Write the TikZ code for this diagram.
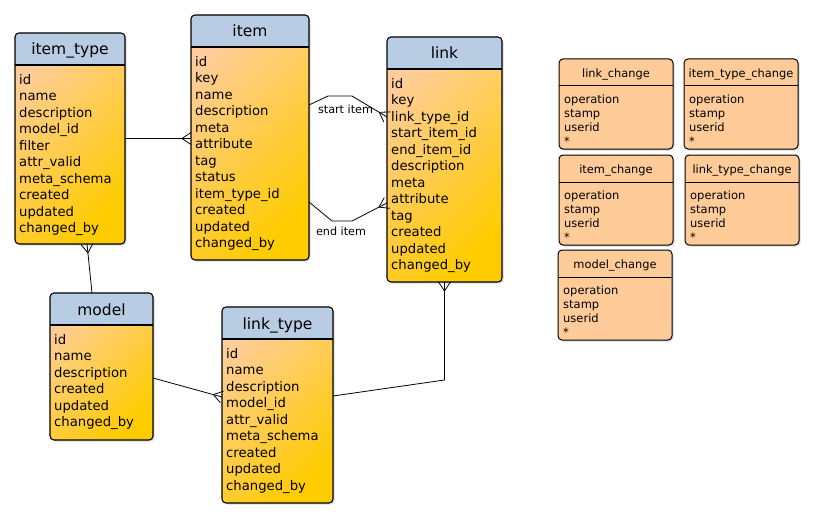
\documentclass[tikz,border=0pt]{standalone}
\usepackage{fontspec}
\setmainfont{DejaVu Sans}
\usetikzlibrary{shadows}
\usetikzlibrary{decorations.markings}

\definecolor{headblue}{RGB}{184,204,228}
\definecolor{bodytop}{RGB}{255,205,155}
\definecolor{bodybot}{RGB}{255,204,0}
\definecolor{chgfill}{RGB}{255,204,153}

\begin{document}
\begin{tikzpicture}
		[x=1pt, y=-1pt,
		tbl/.style={draw, line width=1.1pt, rounded corners=4pt, anchor=north west, inner sep=0pt, outer sep=0pt,
			top color=bodytop, bottom color=bodybot, shading angle=45,
			drop shadow={shadow xshift=1.5pt, shadow yshift=-1.5pt, opacity=0.3},
			path picture={\fill[headblue, sharp corners] (path picture bounding box.north west) rectangle ([yshift=-32pt]path picture bounding box.north east);
				\draw[line width=1.1pt] ([yshift=-32pt]path picture bounding box.north west) -- ([yshift=-32pt]path picture bounding box.north east);}},
		chg/.style={draw, line width=1pt, rounded corners=4pt, anchor=north west, inner sep=0pt, outer sep=0pt,
			fill=chgfill, minimum width=114pt, minimum height=90pt,
			drop shadow={shadow xshift=1.5pt, shadow yshift=-1.5pt, opacity=0.3},
			path picture={\draw[line width=1pt] ([yshift=-27pt]path picture bounding box.north west) -- ([yshift=-27pt]path picture bounding box.north east);}},
		ttl/.style={font=\fontsize{15.5}{18}\selectfont, anchor=base, inner sep=0pt},
		fld/.style={font=\fontsize{13.2}{16.5}\selectfont, align=left, anchor=north west, inner sep=0pt},
		cttl/.style={font=\fontsize{11.4}{14}\selectfont, anchor=base, inner sep=0pt},
		cfld/.style={font=\fontsize{11.5}{14}\selectfont, align=left, anchor=north west, inner sep=0pt},
		lbl/.style={font=\fontsize{11.2}{13}\selectfont, inner sep=0pt},
		conn/.style={draw, line width=0.8pt},
		crowend/.style={postaction={decorate, decoration={markings, mark=at position 1 with {\draw[line width=0.8pt] (-9pt,0pt) -- (0pt,6pt) (-9pt,0pt) -- (0pt,-6pt);}}}},
		crowstart/.style={postaction={decorate, decoration={markings, mark=at position 0 with {\draw[line width=0.8pt] (9pt,0pt) -- (0pt,6pt) (9pt,0pt) -- (0pt,-6pt);}}}},
		]
		\useasboundingbox (0,0) rectangle (814,519);
		
		% main tables
		\node[tbl, minimum width=110pt, minimum height=211pt] (itemtype) at (15,33) {};
		\node[ttl] (itemtype-t) at ([yshift=-22pt]itemtype.north) {item\_type};
		\node[fld] (itemtype-f) at ([xshift=4pt,yshift=-41pt]itemtype.north west) {id\\name\\description\\model\_id\\filter\\attr\_valid\\meta\_schema\\created\\updated\\changed\_by};
		
		\node[tbl, minimum width=118pt, minimum height=245pt] (item) at (191,15) {};
		\node[ttl] (item-t) at ([yshift=-22pt]item.north) {item};
		\node[fld] (item-f) at ([xshift=4pt,yshift=-41pt]item.north west) {id\\key\\name\\description\\meta\\attribute\\tag\\status\\item\_type\_id\\created\\updated\\changed\_by};
		
		\node[tbl, minimum width=115pt, minimum height=245pt] (link) at (387,37) {};
		\node[ttl] (link-t) at ([yshift=-22pt]link.north) {link};
		\node[fld] (link-f) at ([xshift=4pt,yshift=-41pt]link.north west) {id\\key\\link\_type\_id\\start\_item\_id\\end\_item\_id\\description\\meta\\attribute\\tag\\created\\updated\\changed\_by};
		
		\node[tbl, minimum width=103pt, minimum height=147pt] (model) at (50,293) {};
		\node[ttl] (model-t) at ([yshift=-22pt]model.north) {model};
		\node[fld] (model-f) at ([xshift=4pt,yshift=-41pt]model.north west) {id\\name\\description\\created\\updated\\changed\_by};
		
		\node[tbl, minimum width=111pt, minimum height=196pt] (linktype) at (222,307) {};
		\node[ttl] (linktype-t) at ([yshift=-22pt]linktype.north) {link\_type};
		\node[fld] (linktype-f) at ([xshift=4pt,yshift=-41pt]linktype.north west) {id\\name\\description\\model\_id\\attr\_valid\\meta\_schema\\created\\updated\\changed\_by};
		
		% change tables
		\foreach \nm/\txt/\x/\y in {linkch/link\_change/559/59, itemtypech/item\_type\_change/684/59,
			itemch/item\_change/559/155, linktypech/link\_type\_change/685/155, modelch/model\_change/558/250}{
			\node[chg] (\nm) at (\x,\y) {};
			\node[cttl] (\nm-t) at ([yshift=-18.5pt]\nm.north) {\txt};
			\node[cfld] (\nm-f) at ([xshift=5pt,yshift=-36pt]\nm.north west) {operation\\stamp\\userid\\*};
		}
		
		% relations
		\draw[conn, crowend] (itemtype.east) -- (itemtype.east -| item.west);
		\draw[conn, crowstart] ([xshift=17pt]itemtype.south) -- ([xshift=-9.5pt]model.north);
		
		\coordinate (s1) at (328,96);
		\coordinate (s2) at (352,96);
		\draw[conn, crowend] ([yshift=-90pt]item.north east) -- (s1) -- (s2) -- ([yshift=-80pt]link.north west);
		\node[lbl] (startlbl) at (345.5,109) {start item};
		
		\coordinate (e1) at (332,221);
		\coordinate (e2) at (352,221);
		\draw[conn, crowend] ([yshift=-187pt]item.north east) -- (e1) -- (e2) -- ([yshift=-166pt]link.north west);
		\node[lbl] (endlbl) at (341,231) {end item};
		
		\draw[conn, crowstart] (link.south) -- (link.south |- 0,380) -- ([yshift=9pt]linktype.east);
		\draw[conn, crowend] ([yshift=-11.5pt]model.east) -- ([yshift=8pt]linktype.west);
		
	\end{tikzpicture}
\end{document}
